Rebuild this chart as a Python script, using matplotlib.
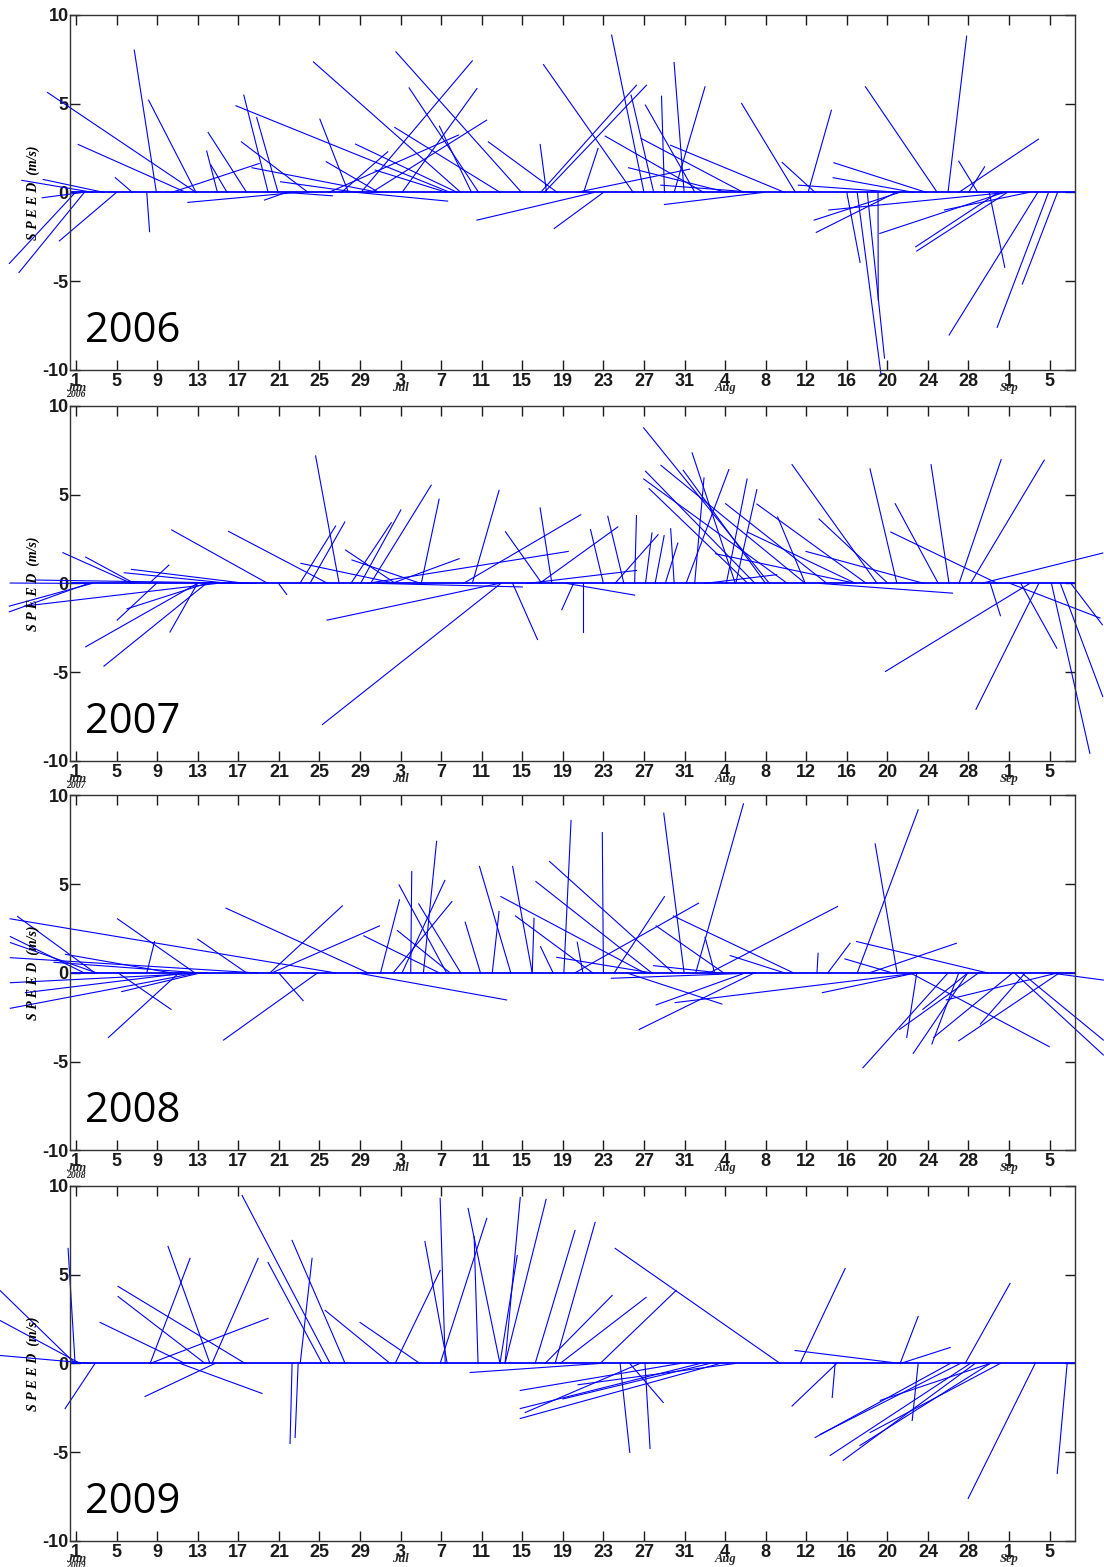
import datetime as dt
import numpy as np
import matplotlib.pyplot as plt

plt.rcParams['font.family'] = ['Liberation Sans', 'DejaVu Sans']

years = [2006, 2007, 2008, 2009]

# each stick: (base day on the zero line, day at the tip, speed at the tip in m/s)
# day 1 = 1 June
sticks06 = [
    (12.83, -1.82, 5.63), (11.84, 1.21, 2.70), (8.92, 6.74, 8.01), (12.83, 8.15, 5.20),
    (6.56, 4.87, 0.83), (2.69, -4.35, 0.68), (3.75, -2.24, 0.73), (1.63, -2.34, -0.30),
    (0.93, -5.58, -4.0), (1.81, -4.63, -4.51), (4.98, -0.65, -2.73), (7.97, 8.25, -2.21),
    (17.82, 14.02, 3.38), (14.94, 13.88, 2.33), (15.89, 14.3, 1.54), (10.43, 19.06, 1.63),
    (19.94, 17.54, 5.48), (20.92, 18.81, 4.22), (37.89, 16.77, 4.88), (23.88, 17.30, 2.85),
    (30.85, 18.35, 1.39), (28.74, 21.17, 0.60), (22.75, 12.02, -0.56), (21.70, 19.58, -0.43),
    (21.7, 26.27, -0.19), (38.94, 24.41, 7.35), (27.86, 25.04, 4.13), (30.85, 25.67, 1.73),
    (38.59, 28.56, 2.72), (44.93, 32.54, 7.92), (40.70, 33.84, 5.89), (42.82, 32.43, 3.66),
    (29.09, 40.07, 7.41), (33.14, 40.53, 5.85), (30.14, 41.48, 4.07), (25.92, 38.70, 3.23),
    (27.15, 31.73, 2.29), (40.0, 36.83, 3.73), (37.54, 30.50, 1.26), (28.74, 37.64, -0.49),
    (48.45, 41.65, 2.85), (47.39, 46.76, 2.70), (55.94, 47.09, 7.20), (52.1, 40.53, -1.56),
    (57.0, 53.81, 8.86), (46.8, 56.26, 6.04), (47.16, 57.25, 6.04), (57.96, 55.73, 5.48),
    (59.02, 58.73, 5.42), (60.96, 59.97, 7.32), (62.03, 57.14, 4.92), (59.97, 63.02, 5.95),
    (62.9, 53.18, 3.17), (66.8, 56.72, 3.04), (70.88, 59.62, 2.66), (51.05, 52.47, 2.48),
    (65.2, 55.48, 1.39), (50.35, 61.5, 1.31), (68.04, 58.66, 0.41), (71.94, 66.63, 5.01),
    (73.18, 75.48, 4.63), (73.88, 70.63, 1.69), (82.2, 72.22, 0.41), (85.92, 78.84, 5.95),
    (84.86, 75.73, 1.67), (83.62, 75.65, 0.83), (86.98, 88.82, 8.80), (89.92, 88.04, 1.76),
    (89.0, 90.59, 1.44), (88.04, 95.9, 3.0), (68.75, 59.02, -0.68), (53.0, 48.15, -2.03),
    (77.0, 78.31, -3.94), (78.03, 80.36, -10.19), (79.02, 80.72, -9.34), (80.08, 80.1, -6.06),
    (82.2, 73.78, -1.56), (81.85, 73.99, -2.25), (92.82, 75.23, -0.99), (92.5, 80.26, -2.31),
    (91.94, 83.8, -3.06), (92.82, 83.9, -3.30), (94.95, 86.63, -0.99), (95.83, 87.09, -8.03),
    (96.89, 91.83, -7.6), (97.78, 94.31, -5.16), (91.05, 92.58, -4.22),
]

sticks07 = [
    (6.46, -0.30, 1.73), (6.74, 1.95, 1.48), (16.14, 5.75, 0.60), (17.72, 6.46, 0.79),
    (18.78, -3.05, 0.19), (1.88, -5.5, 0.02), (19.9, 10.43, 3.01), (25.81, 16.03, 2.93),
    (8.92, 5.05, -2.07), (8.21, 10.15, 1.03), (2.23, -5.58, -1.60), (2.58, -5.58, -1.28),
    (14.9, -4.1, -1.28), (13.85, 6.03, -1.43), (12.97, 1.95, -3.57), (13.85, 3.75, -4.66),
    (12.97, 10.26, -2.74), (20.96, 21.77, -0.62), (26.94, 24.62, 7.18), (23.07, 26.59, 3.23),
    (24.06, 27.5, 3.46), (32.5, 23.17, 1.13), (32.5, 27.57, 1.88), (34.97, 28.2, 1.32),
    (28.1, 32.08, 3.42), (29.05, 33.03, 4.14), (30.04, 36.02, 5.53), (35.04, 36.8, 4.74),
    (32.15, 38.77, 1.39), (40.07, 42.71, 5.24), (46.93, 43.34, 2.91), (47.92, 46.76, 4.25),
    (39.2, 50.77, 3.87), (29.7, 49.53, 1.8), (44.05, 46.5, -3.16), (42.71, 25.75, -2.07),
    (42.89, 25.29, -7.95), (30.7, 45.0, -0.2),
    (46.7, 54.42, 3.18), (55.02, 53.43, 3.78), (53.0, 51.73, 3.03), (56.08, 56.26, 3.82),
    (54.14, 58.39, 2.74), (57.15, 57.79, 2.84), (58.1, 58.99, 2.69), (59.98, 59.63, 3.08),
    (59.1, 60.34, 2.27), (45.5, 56.26, 0.73), (49.35, 56.08, -0.66), (50.95, 50.95, -2.76),
    (50.06, 48.9, -1.48), (69.37, 56.97, 8.76), (66.0, 61.75, 7.35), (72.91, 58.67, 6.65),
    (67.95, 57.15, 6.32), (71.14, 56.97, 5.88), (67.24, 57.5, 5.34), (69.0, 60.87, 6.37),
    (62.0, 62.92, 5.94), (61.15, 65.37, 6.41), (65.12, 67.17, 5.88), (66.05, 68.13, 5.28),
    (75.04, 65.05, 4.49), (78.93, 68.13, 4.47), (77.87, 67.24, 2.88), (72.91, 70.18, 3.74),
    (79.99, 71.6, 6.69), (81.06, 74.26, 3.63), (84.6, 72.98, 1.80), (81.94, 79.29, 6.45),
    (86.02, 81.77, 4.49), (87.08, 85.31, 6.69), (88.07, 92.22, 6.97), (89.2, 96.47, 6.94),
    (91.86, 81.34, 2.89), (77.87, 64.05, 1.67), (90.27, 102.24, 1.71), (74.33, 87.43, -0.55),
    (95.05, 80.81, -4.96), (95.94, 89.74, -7.09), (91.15, 92.15, -1.82), (94.16, 97.71, -3.65),
    (97.18, 100.97, -9.57), (98.06, 102.24, -6.37), (93.1, 101.96, -1.95), (99.1, 102.2, -2.33),
    (63.0, 70.08, 0.49),
]

sticks08 = [
    (26.6, -5.5, 3.05), (2.87, -4.77, 3.18), (1.81, -5.48, 2.05), (3.04, -5.48, 1.71),
    (18.88, -5.48, 0.86), (13.25, -1.18, 0.60), (10.43, -0.05, 1.05), (13.95, -5.48, -0.55),
    (12.9, -5.48, -1.99), (11.84, -4.0, -1.11), (13.25, 5.5, -1.05), (12.72, 5.08, 3.05),
    (7.97, 8.74, 1.77), (5.15, 10.36, -2.05), (11.14, 4.2, -3.63), (17.82, 13.0, 1.9),
    (29.79, 15.78, 3.65), (20.11, 27.26, 3.78), (20.29, 30.92, 2.65), (36.83, 29.37, 2.09),
    (20.99, 23.39, -1.56), (24.8, 15.54, -3.78), (28.74, 43.45, -1.52), (31.02, 32.89, 4.12),
    (34.0, 34.1, 5.71), (37.54, 32.85, 4.96), (35.25, 36.55, 7.41), (33.14, 37.36, 5.21),
    (32.26, 38.06, 4.02), (38.94, 34.79, 3.89), (37.89, 32.68, 2.39), (40.88, 39.37, 2.86),
    (43.87, 40.78, 6.0), (42.04, 42.71, 3.46), (45.98, 44.05, 6.0), (57.07, 42.89, 4.3),
    (51.94, 44.33, 3.21), (45.98, 46.16, 3.08), (59.9, 47.69, 6.28), (57.78, 46.34, 5.15),
    (49.1, 49.81, 8.59), (53.0, 52.89, 7.91), (60.96, 58.95, 9.0), (62.1, 66.81, 9.53),
    (54.06, 59.02, 4.3), (50.17, 62.38, 3.93), (64.86, 58.2, 2.65), (71.76, 59.9, 3.21),
    (63.97, 63.02, 2.01), (50.98, 50.42, 1.73), (57.78, 48.4, 0.88), (48.04, 46.8, 1.48),
    (64.5, 57.96, 0.41), (70.88, 65.5, 0.98), (63.44, 76.08, 3.74), (74.06, 74.17, 1.11),
    (75.12, 77.32, 1.67), (81.96, 79.8, 7.27), (78.03, 84.04, 9.19), (90.88, 77.96, 1.77),
    (79.2, 87.8, 1.67), (81.5, 76.82, 0.79), (68.04, 53.78, -0.30), (55.3, 64.68, -1.75),
    (66.98, 58.2, -1.8), (83.97, 60.08, -1.67), (67.87, 56.54, -3.18), (83.8, 74.59, -1.11),
    (83.9, 82.91, -3.63), (86.98, 78.59, -5.34), (88.93, 83.55, -4.53), (88.04, 85.39, -4.0),
    (89.99, 82.2, -3.18), (88.93, 84.5, -2.05), (93.35, 85.57, -3.63), (97.96, 88.04, -3.82),
    (94.59, 90.17, -2.88), (83.27, 96.96, -4.15), (93.53, 102.3, -4.62), (97.07, 102.3, -0.4),
    (94.24, 102.3, -3.78), (97.78, 86.8, -1.52),
]

sticks09 = [
    (0.9, -6.5, 4.11), (1.4, -6.5, 2.42), (2.4, -6.5, 0.45), (0.9, 0.21, 6.48),
    (2.87, -0.08, -2.54), (17.67, 5.14, 4.34), (13.72, 5.14, 3.77), (11.75, 3.37, 2.31),
    (14.7, 7.8, -1.86), (14.2, 10.07, 6.59), (8.3, 12.24, 5.92), (26.05, 17.37, 9.46),
    (14.4, 18.95, 5.92), (8.3, 19.93, 2.54), (11.26, 19.34, -1.69), (22.3, 22.1, -4.51),
    (22.9, 22.6, -4.17), (25.26, 19.93, 5.69), (27.53, 22.3, 6.93), (23.1, 24.27, 5.92),
    (31.97, 25.56, 2.99), (34.9, 29.0, 2.31), (37.6, 35.4, 6.87), (32.46, 36.9, 5.24),
    (37.4, 36.9, 9.3), (42.8, 39.66, 8.73), (40.64, 40.25, 7.15), (36.9, 41.5, 8.17),
    (43.3, 44.8, 9.35), (43.3, 47.35, 9.24), (42.8, 44.5, 6.08), (46.27, 50.2, 7.49),
    (48.24, 52.18, 7.94), (47.25, 53.86, 3.83), (48.73, 57.21, 3.72), (70.43, 54.16, 6.48),
    (52.68, 60.17, 4.11), (52.68, 39.86, -0.51), (60.57, 44.8, -1.52), (62.54, 44.8, -2.54),
    (56.6, 45.3, -2.76), (64.5, 44.8, -3.1), (54.65, 55.6, -5.01), (57.1, 57.6, -4.79),
    (55.6, 58.9, -2.2), (72.4, 76.84, 5.35), (75.85, 75.56, -1.92), (82.26, 71.9, 0.73),
    (87.2, 73.88, -4.17), (88.2, 74.37, -4.0), (89.17, 75.36, -5.18), (89.66, 76.64, -5.46),
    (91.14, 78.3, -4.62), (92.13, 79.3, -3.89), (91.14, 80.3, -2.08), (82.26, 84.04, 2.65),
    (84.04, 83.45, -3.21), (88.67, 93.1, 4.51), (95.58, 88.97, -7.6), (98.73, 97.75, -6.2),
    (82.3, 87.2, 0.9), (76.0, 71.6, -2.4), (66.0, 50.5, -1.2), (63.5, 49.0, -2.0),
]

all_sticks = [sticks06, sticks07, sticks08, sticks09]
baseline_span = [0.6, 99.5]
tick_days = list(range(1, 98, 4))
yticks = [-10, -5, 0, 5, 10]

fig = plt.figure(figsize=(11.04, 15.67), dpi=100)
bottoms = [0.7639, 0.5144, 0.2658, 0.0166]

for yr, sticks, b in zip(years, all_sticks, bottoms):
    ax = fig.add_axes([0.0634, b, 0.9103, 0.2266])
    st = np.array(sticks)
    ax.plot(baseline_span, [0, 0], color='blue', lw=1.3)
    for t0, t1, v in st:
        ax.plot([t0, t1], [0, v], color='blue', lw=0.8, clip_on=False)

    ax.set_xlim(0.4, 99.5)
    ax.set_ylim(-10, 10)
    ax.set_yticks(yticks)
    ax.set_yticklabels([str(y) for y in yticks], fontweight='bold', fontsize=13)

    start = dt.date(yr, 5, 31)
    dates = [start + dt.timedelta(days=d) for d in tick_days]
    ax.set_xticks(tick_days)
    ax.set_xticklabels([str(d.day) for d in dates], fontweight='bold', fontsize=13)

    ax.tick_params(direction='in', length=7, width=1, top=True, right=True, pad=2,
                   colors='0.1')
    ax.tick_params(axis='y', pad=1)
    for s in ax.spines.values():
        s.set_linewidth(1.0)
        s.set_color('0.2')

    # month names under the first tick of each month
    prev = None
    for d, date in zip(tick_days, dates):
        if date.month != prev:
            ax.text(d, -0.05, date.strftime('%b'), transform=ax.get_xaxis_transform(),
                    ha='center', va='center', fontsize=9, family='Liberation Serif',
                    style='italic', fontweight='bold', color='0.15')
            if prev is None:
                ax.text(d, -0.07, str(yr), transform=ax.get_xaxis_transform(),
                        ha='center', va='center', fontsize=7, family='Liberation Serif',
                        style='italic', fontweight='bold', color='0.15')
            prev = date.month

    ax.text(-0.037, 0.5, 'S P E E D  (m/s)', transform=ax.transAxes, rotation=90,
            ha='center', va='center', fontsize=10, family='Liberation Serif',
            style='italic', fontweight='bold')

    ax.text(1.9, -8.4, str(yr), fontsize=30, family='Open Sans', color='black',
            ha='left', va='baseline')

fig.savefig('out.png', dpi=100)
